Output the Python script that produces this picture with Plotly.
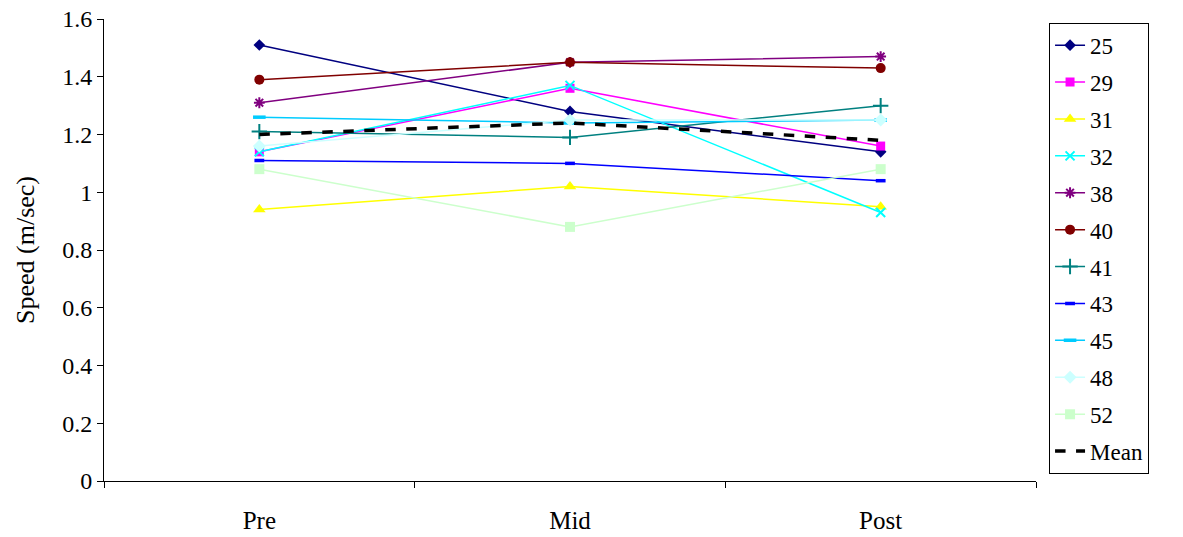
import plotly.graph_objects as go

categories = ["Pre", "Mid", "Post"]
names = ["25", "29", "31", "32", "38", "40", "41", "43", "45", "48", "52"]
s25 = [1.51, 1.28, 1.14]
s29 = [1.14, 1.36, 1.16]
s31 = [0.94, 1.02, 0.95]
s32 = [1.14, 1.37, 0.93]
s38 = [1.31, 1.45, 1.47]
s40 = [1.39, 1.45, 1.43]
s41 = [1.21, 1.19, 1.30]
s43 = [1.11, 1.10, 1.04]
s45 = [1.26, 1.24, 1.25]
s48 = [1.16, 1.25, 1.25]
s52 = [1.08, 0.88, 1.08]
mean = [1.20, 1.24, 1.18]

series = [s25, s29, s31, s32, s38, s40, s41, s43, s45, s48, s52]
colors = ["#000080", "#FF00FF", "#FFFF00", "#00FFFF", "#800080", "#800000",
          "#008080", "#0000FF", "#00CCFF", "#CCFFFF", "#CCFFCC"]
symbols = ["diamond", "square", "triangle-up", "x-thin", "asterisk", "circle",
           "cross-thin", "line-ew", "line-ew", "diamond", "square"]
sizes = [9, 9, 11, 9, 9, 10, 11, 7, 9, 10, 10]

FONT = "Liberation Serif, Times New Roman, serif"

fig = go.Figure()
for i, (n, v) in enumerate(zip(names, series)):
    sym = symbols[i]
    open_line = sym in ("x-thin", "asterisk", "cross-thin", "line-ew")
    fig.add_trace(go.Scatter(
        x=categories, y=v, name=n, mode="lines+markers",
        legendgroup=n,
        line=dict(color=colors[i], width=1.5),
        marker=dict(symbol=sym, size=sizes[i], color=colors[i],
                    line=dict(color=colors[i], width=2 if sym != "line-ew" else 3.5) if open_line else dict(width=0)),
    ))
fig.add_trace(go.Scatter(
    x=categories, y=mean, name="Mean", mode="lines", legendgroup="Mean",
    line=dict(color="black", width=3.5, dash="dash"),
))

fig.update_layout(
    width=1183, height=537,
    margin=dict(l=104, r=147, t=19, b=56),
    paper_bgcolor="white", plot_bgcolor="white",
    font=dict(family=FONT, size=24, color="black"),
    showlegend=True,
    legend=dict(
        x=1.014, y=0.992, xanchor="left", yanchor="top",
        bordercolor="black", borderwidth=1,
        font=dict(family=FONT, size=23, color="black"),
        tracegroupgap=4, maxheight=520, entrywidth=122,
    ),
    xaxis=dict(
        type="category", range=[-0.5, 2.5], automargin=False,
        showline=True, linecolor="black", linewidth=1,
        ticks="outside", tickson="boundaries", ticklen=6, tickcolor="black",
        showgrid=False, zeroline=False, ticklabelstandoff=17,
        tickfont=dict(family=FONT, size=25),
    ),
    yaxis=dict(
        range=[0, 1.6], dtick=0.2, tickformat="~g", automargin=False,
        showline=True, linecolor="black", linewidth=1,
        ticks="outside", ticklen=6, tickcolor="black",
        showgrid=False, zeroline=False,
        title=dict(text="Speed (m/sec)", font=dict(family=FONT, size=26), standoff=20),
        tickfont=dict(family=FONT, size=24),
    ),
)

fig.write_html("out.html")
